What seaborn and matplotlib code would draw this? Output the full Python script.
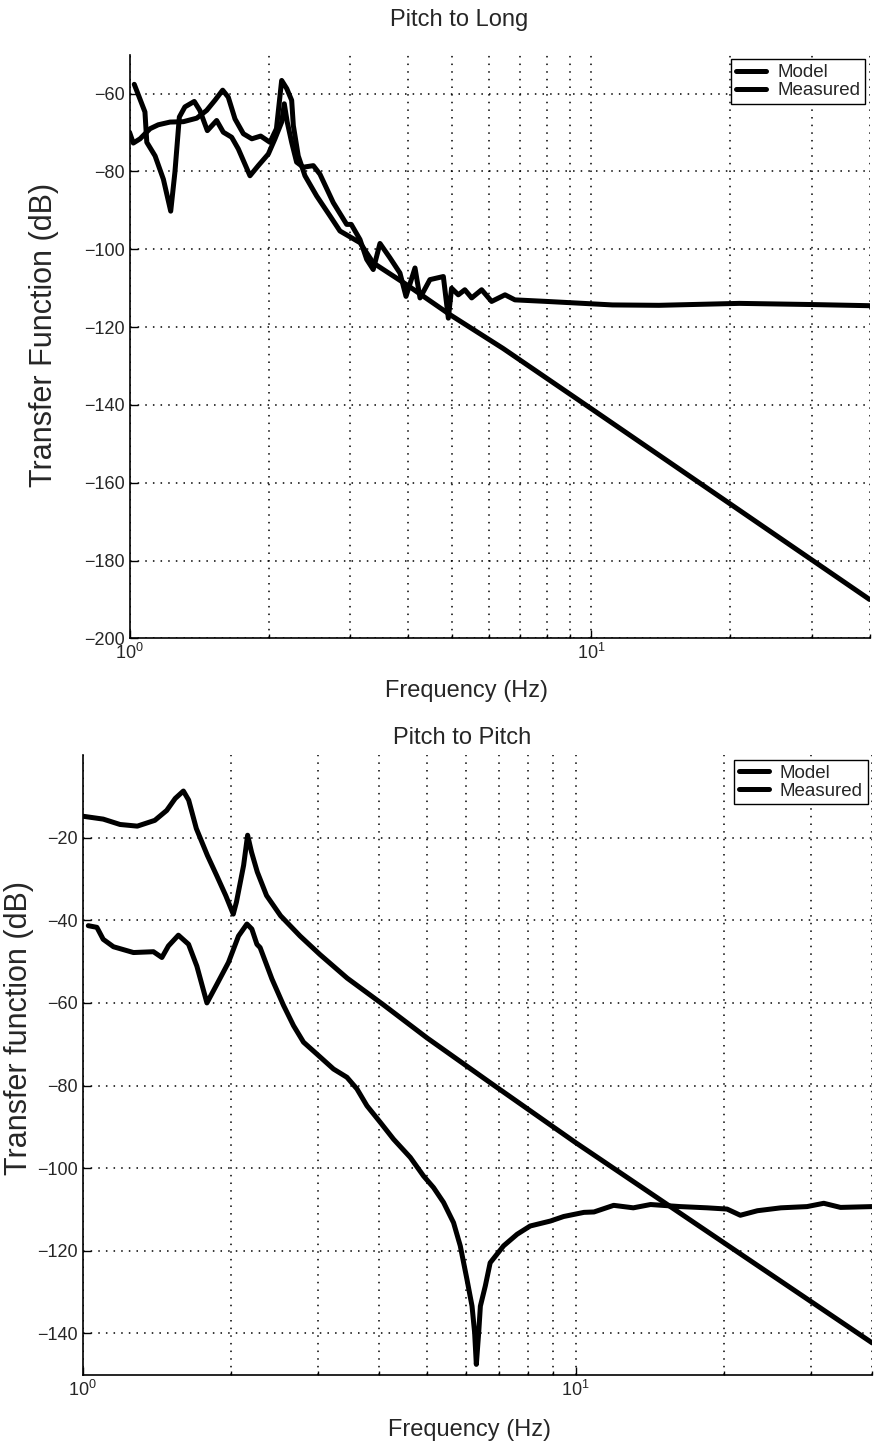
import numpy as np
import pandas as pd
import matplotlib
matplotlib.use("Agg")
import matplotlib.pyplot as plt
import matplotlib.ticker as mticker
import seaborn as sns

# Pitch to Long (Hz, dB)
long_model_f = [1.0, 1.019, 1.054, 1.108, 1.154, 1.224, 1.308, 1.398, 1.469, 1.531,
                1.591, 1.636, 1.692, 1.764, 1.84, 1.923, 2.014, 2.08, 2.135, 2.19,
                2.244, 2.263, 2.319, 2.398, 2.542, 2.716, 2.855, 3.155, 3.37, 3.98,
                4.94, 6.44, 10.0, 20.0, 40.0]
long_model_db = [-69.9, -72.7, -71.6, -69.0, -68.0, -67.3, -67.2, -66.3, -64.3, -61.7,
                 -59.1, -60.9, -66.5, -70.3, -71.6, -70.9, -72.5, -69.0, -56.6, -58.7,
                 -61.7, -68.2, -76.0, -81.1, -86.3, -91.4, -95.3, -98.3, -103.5, -109.1,
                 -116.8, -125.5, -141.0, -165.5, -190.0]

long_meas_f = [1.024, 1.08, 1.09, 1.136, 1.184, 1.228, 1.254, 1.282, 1.318, 1.381,
               1.42, 1.474, 1.544, 1.596, 1.664, 1.72, 1.823, 1.90, 1.998, 2.065,
               2.135, 2.163, 2.195, 2.244, 2.30, 2.378, 2.50, 2.584, 2.761, 2.952,
               3.02, 3.155, 3.262, 3.37, 3.485, 3.663, 3.85, 3.968, 4.15, 4.255,
               4.47, 4.78, 4.9, 4.98, 5.15, 5.32, 5.505, 5.785, 6.08, 6.5,
               6.83, 8.0, 11.1, 14.0, 20.9, 30.0, 40.0]
long_meas_db = [-57.6, -64.7, -72.5, -76.0, -82.0, -90.2, -80.2, -66.0, -63.4, -62.0,
                -64.3, -69.5, -66.9, -69.9, -71.2, -74.2, -81.1, -78.5, -75.5, -71.6,
                -67.3, -62.6, -67.3, -72.5, -77.6, -78.9, -78.5, -80.7, -88.0, -93.6,
                -93.6, -97.5, -102.6, -105.2, -98.5, -102.2, -106.1, -112.1, -104.8, -112.5,
                -107.8, -107.0, -117.7, -110.0, -111.7, -110.4, -112.5, -110.4, -113.4, -111.7,
                -113.0, -113.4, -114.3, -114.4, -113.9, -114.2, -114.5]

# Pitch to Pitch
pitch_model_f = [1.0, 1.10, 1.19, 1.29, 1.40, 1.48, 1.54, 1.60, 1.64, 1.70,
                 1.79, 1.87, 1.95, 2.02, 2.05, 2.12, 2.16, 2.20, 2.26, 2.36,
                 2.52, 2.76, 3.03, 3.44, 4.08, 5.0, 6.71, 10.0, 40.0]
pitch_model_db = [-14.8, -15.5, -16.8, -17.2, -15.8, -13.4, -10.5, -8.7, -10.9, -17.8,
                  -24.3, -29.2, -34.0, -38.5, -35.6, -26.7, -19.4, -23.5, -28.3, -34.0,
                  -38.9, -43.8, -48.3, -54.0, -60.5, -68.5, -79.3, -93.8, -142.3]

pitch_meas_f = [1.026, 1.068, 1.10, 1.154, 1.267, 1.391, 1.447, 1.492, 1.563, 1.639,
                1.704, 1.786, 1.871, 1.975, 2.07, 2.153, 2.203, 2.256, 2.29, 2.42,
                2.555, 2.677, 2.805, 2.987, 3.227, 3.436, 3.6, 3.773, 4.015, 4.273,
                4.62, 4.915, 5.15, 5.397, 5.655, 5.835, 6.02, 6.165, 6.24, 6.29,
                6.36, 6.41, 6.56, 6.71, 7.145, 7.61, 8.09, 8.89, 9.46, 10.4,
                10.9, 11.95, 13.1, 14.2, 16.3, 18.5, 20.3, 21.6, 23.4, 26.1,
                29.5, 31.9, 34.5, 40.0]
pitch_meas_db = [-41.3, -41.7, -44.6, -46.4, -47.8, -47.6, -49.0, -46.2, -43.6, -45.8,
                 -51.1, -60.0, -55.5, -50.2, -43.8, -40.9, -42.1, -45.8, -46.6, -54.2,
                 -60.6, -65.5, -69.5, -72.4, -76.0, -78.0, -80.8, -84.9, -88.9, -93.0,
                 -97.4, -101.9, -104.7, -108.3, -113.2, -118.8, -126.9, -133.4, -139.8, -147.5,
                 -139.8, -133.4, -128.5, -122.9, -118.8, -116.0, -114.0, -112.8, -111.7, -110.7,
                 -110.6, -109.0, -109.6, -108.8, -109.3, -109.6, -109.9, -111.4, -110.3, -109.6,
                 -109.3, -108.5, -109.5, -109.3]

sns.set_style("ticks")
plt.rcParams['font.family'] = ['Liberation Sans', 'DejaVu Sans']
plt.rcParams['mathtext.fontset'] = 'custom'
plt.rcParams['mathtext.rm'] = 'Liberation Sans'
plt.rcParams['mathtext.it'] = 'Liberation Sans'


def draw(ax, mf, mdb, sf, sdb, title, ylab, ylim, yticks, title_pad, label_x, xlab_y, ylab_xy):
    model = pd.DataFrame({'f': mf, 'db': mdb})
    meas = pd.DataFrame({'f': sf, 'db': sdb})
    sns.lineplot(data=model, x='f', y='db', ax=ax, color='black', lw=3.6, label='Model')
    sns.lineplot(data=meas, x='f', y='db', ax=ax, color='black', lw=3.6, label='Measured')
    ax.set_xscale('log')
    ax.set_xlim(1, 40)
    ax.set_ylim(*ylim)
    ax.set_yticks(yticks)
    ax.xaxis.set_major_formatter(mticker.LogFormatterSciNotation())
    ax.xaxis.set_minor_locator(mticker.LogLocator(subs=np.arange(2, 10)))
    ax.xaxis.set_minor_formatter(mticker.NullFormatter())
    ax.grid(True, which='major', color='black', ls=(0, (1, 4)), lw=1.1)
    ax.grid(True, which='minor', axis='x', color='black', ls=(0, (1, 4)), lw=1.1)
    ax.tick_params(which='both', direction='in', labelsize=13, width=1, color='black')
    ax.tick_params(which='major', length=6)
    ax.tick_params(which='minor', length=3)
    for side in ['top', 'right']:
        ax.spines[side].set_visible(False)
    for side in ['left', 'bottom']:
        ax.spines[side].set_color('black')
        ax.spines[side].set_linewidth(1.2)
    ax.set_title(title, fontsize=17, pad=title_pad, x=label_x - 0.01)
    ax.set_xlabel('Frequency (Hz)', fontsize=17)
    ax.xaxis.set_label_coords(label_x, xlab_y)
    ax.set_ylabel(ylab, fontsize=22)
    ax.yaxis.set_label_coords(*ylab_xy)
    leg = ax.legend(loc='upper right', fontsize=13.5, frameon=True, fancybox=False,
                    edgecolor='black', framealpha=1, borderaxespad=0.25,
                    handlelength=1.6, labelspacing=0.05, borderpad=0.25, handletextpad=0.6)
    leg.get_frame().set_linewidth(1.0)


fig = plt.figure(figsize=(8.81, 14.41), dpi=100)
ax1 = fig.add_axes([0.147, 0.557, 0.840, 0.405])
ax2 = fig.add_axes([0.094, 0.046, 0.896, 0.430])

draw(ax1, long_model_f, long_model_db, long_meas_f, long_meas_db,
     'Pitch to Long', 'Transfer Function (dB)', (-200, -50), list(range(-200, -59, 20)),
     21, 0.455, -0.072, (-0.095, 0.52))
draw(ax2, pitch_model_f, pitch_model_db, pitch_meas_f, pitch_meas_db,
     'Pitch to Pitch', 'Transfer function (dB)', (-150, 0), list(range(-140, -19, 20)),
     8, 0.49, -0.072, (-0.062, 0.56))

fig.savefig('out.png', dpi=100)
